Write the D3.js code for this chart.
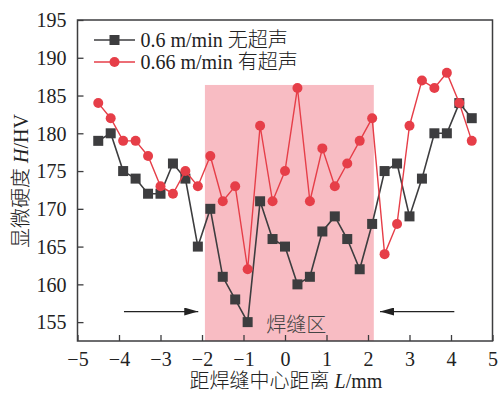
<!DOCTYPE html>
<html>
<head>
<meta charset="utf-8">
<script src="https://cdn.jsdelivr.net/npm/d3@7"></script>
<style>
  body { margin: 0; background: #fff; }
  svg { display: block; font-family: "Liberation Serif", "Noto Sans CJK SC", serif; }
  .cjk { font-weight: 300; }
</style>
</head>
<body>
<script>
// distance from weld centre, mm
const positions = [-4.5, -4.2, -3.9, -3.6, -3.3, -3.0, -2.7, -2.4, -2.1, -1.8, -1.5, -1.2, -0.9, -0.6, -0.3,
  0, 0.3, 0.6, 0.9, 1.2, 1.5, 1.8, 2.1, 2.4, 2.7, 3.0, 3.3, 3.6, 3.9, 4.2, 4.5];
// 0.6 m/min, no ultrasound
const hvNoUltra = [179, 180, 175, 174, 172, 172, 176, 174, 165, 170, 161, 158, 155, 171, 166,
  165, 160, 161, 167, 169, 166, 162, 168, 175, 176, 169, 174, 180, 180, 184, 182];
// 0.66 m/min, with ultrasound
const hvUltra = [184, 182, 179, 179, 177, 173, 172, 175, 173, 177, 171, 173, 162, 181, 171,
  175, 186, 171, 178, 173, 176, 179, 182, 164, 168, 181, 187, 186, 188, 184, 179];
const seriesNames = ["0.6 m/min 无超声", "0.66 m/min 有超声"];
const xTicks = [-5, -4, -3, -2, -1, 0, 1, 2, 3, 4, 5];
const yTicks = [155, 160, 165, 170, 175, 180, 185, 190, 195];
const weldZone = [-1.93, 2.14];   // shaded x range
const weldTop = 186.4;            // shaded top
const arrowLeft = [-3.88, -2.09];
const arrowRight = [4.08, 2.29];
const arrowY = 156.4;

const width = 502, height = 394;
const margin = {top: 20, right: 9.5, bottom: 53, left: 77.5};
const dark = "#3d3d3f", red = "#e63e48", pink = "#f8bcc3";

const svg = d3.select("body").append("svg")
  .attr("width", width).attr("height", height);

const x = d3.scaleLinear().domain([-5, 5]).range([margin.left, width - margin.right]);
const y = d3.scaleLinear().domain([152.5, 195]).range([height - margin.bottom, margin.top]);

// weld zone
svg.append("rect")
  .attr("x", x(weldZone[0])).attr("width", x(weldZone[1]) - x(weldZone[0]))
  .attr("y", y(weldTop)).attr("height", y(152.5) - y(weldTop))
  .attr("fill", pink);

svg.append("text")
  .attr("class", "cjk")
  .attr("x", x(0.27)).attr("y", 331.5)
  .attr("text-anchor", "middle")
  .attr("font-size", 20).attr("fill", "#444")
  .style("font-family", "'Noto Sans CJK SC'")
  .text("焊缝区");

// arrows
const defs = svg.append("defs");
defs.append("marker").attr("id", "ah")
  .attr("viewBox", "0 0 14 8").attr("refX", 14).attr("refY", 4)
  .attr("markerWidth", 14).attr("markerHeight", 8)
  .attr("markerUnits", "userSpaceOnUse").attr("orient", "auto")
  .append("path").attr("d", "M0,0L14,4L0,8Z").attr("fill", "#222");

[arrowLeft, arrowRight].forEach(a => {
  svg.append("line")
    .attr("x1", x(a[0])).attr("x2", x(a[1]))
    .attr("y1", y(arrowY)).attr("y2", y(arrowY))
    .attr("stroke", "#222").attr("stroke-width", 1.2)
    .attr("marker-end", "url(#ah)");
});

// axes (inward ticks)
const xAxis = svg.append("g")
  .attr("transform", `translate(0,${height - margin.bottom})`)
  .call(d3.axisBottom(x).tickValues(xTicks).tickSize(-6).tickPadding(11)
    .tickFormat(d => d < 0 ? "\u2212" + Math.abs(d) : d));
const yAxis = svg.append("g")
  .attr("transform", `translate(${margin.left},0)`)
  .call(d3.axisLeft(y).tickValues(yTicks).tickSize(-6).tickPadding(11));

[xAxis, yAxis].forEach(g => {
  g.select(".domain").remove();
  g.selectAll(".tick line").attr("stroke", dark).attr("stroke-width", 1.3);
  g.selectAll(".tick text").attr("font-size", 20).attr("fill", "#222")
    .style("font-family", "'Liberation Serif'");
});
yAxis.selectAll(".tick text").attr("dy", "0.34em");

// frame
svg.append("rect")
  .attr("x", margin.left).attr("y", margin.top)
  .attr("width", width - margin.left - margin.right)
  .attr("height", height - margin.top - margin.bottom)
  .attr("fill", "none").attr("stroke", dark).attr("stroke-width", 1.5);

// series
const line = d3.line().x(d => x(d[0])).y(d => y(d[1]));
const blackData = positions.map((p, i) => [p, hvNoUltra[i]]);
const redData = positions.map((p, i) => [p, hvUltra[i]]);

svg.append("path").datum(blackData)
  .attr("d", line).attr("fill", "none").attr("stroke", dark).attr("stroke-width", 1.6);
svg.append("g").selectAll("rect").data(blackData).join("rect")
  .attr("x", d => x(d[0]) - 5).attr("y", d => y(d[1]) - 5)
  .attr("width", 10).attr("height", 10).attr("fill", dark);

svg.append("path").datum(redData)
  .attr("d", line).attr("fill", "none").attr("stroke", red).attr("stroke-width", 1.4);
svg.append("g").selectAll("circle").data(redData).join("circle")
  .attr("cx", d => x(d[0])).attr("cy", d => y(d[1]))
  .attr("r", 5).attr("fill", red);

// legend
const legend = svg.append("g");
[[dark, "square", 40], [red, "circle", 62]].forEach((s, i) => {
  const yy = s[2];
  legend.append("line").attr("x1", 94).attr("x2", 135).attr("y1", yy).attr("y2", yy)
    .attr("stroke", s[0]).attr("stroke-width", 1.5);
  if (s[1] === "square")
    legend.append("rect").attr("x", 109.5).attr("y", yy - 5).attr("width", 10).attr("height", 10).attr("fill", s[0]);
  else
    legend.append("circle").attr("cx", 114.5).attr("cy", yy).attr("r", 5).attr("fill", s[0]);
  legend.append("text").attr("class", "cjk").attr("x", 140.5).attr("y", yy + 7)
    .attr("font-size", 20).attr("fill", "#222")
    .text(seriesNames[i]);
});

// axis titles
const xt = svg.append("text")
  .attr("class", "cjk")
  .attr("x", 286).attr("y", 388)
  .attr("text-anchor", "middle").attr("font-size", 20).attr("fill", "#222");
xt.append("tspan").text("距焊缝中心距离 ");
xt.append("tspan").attr("font-style", "italic").text("L");
xt.append("tspan").text("/mm");

const yt = svg.append("text")
  .attr("class", "cjk")
  .attr("transform", "translate(28,181) rotate(-90)")
  .attr("text-anchor", "middle").attr("font-size", 20).attr("fill", "#222");
yt.append("tspan").text("显微硬度 ");
yt.append("tspan").attr("font-style", "italic").text("H");
yt.append("tspan").text("/HV");
</script>
</body>
</html>
